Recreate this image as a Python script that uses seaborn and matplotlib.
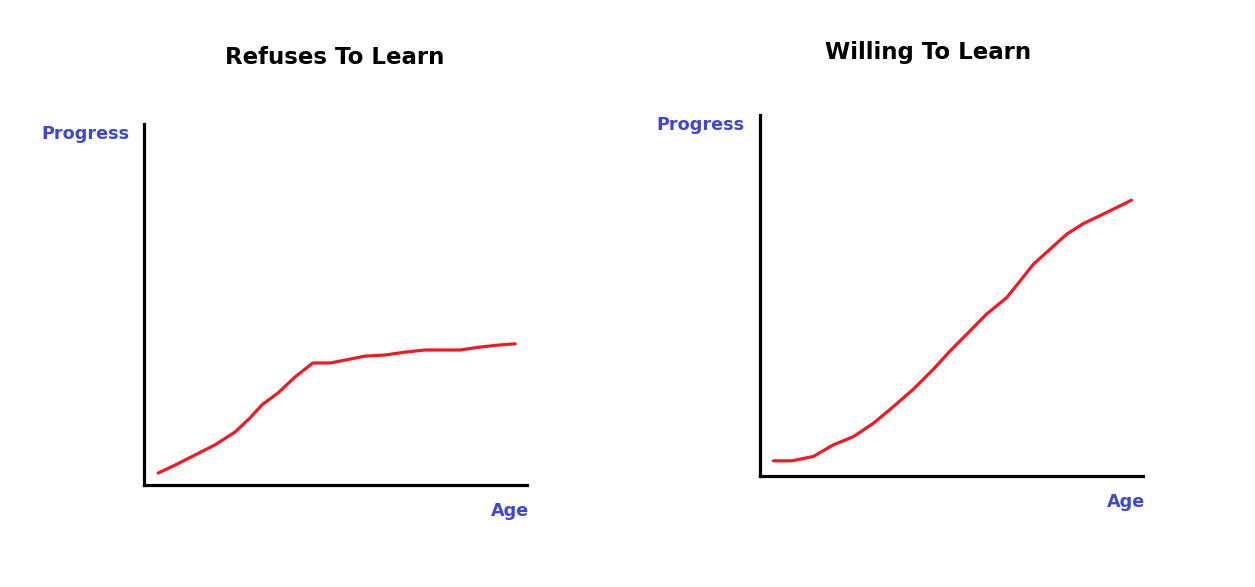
import numpy as np
import pandas as pd
import matplotlib
matplotlib.use("Agg")
import matplotlib.pyplot as plt
import seaborn as sns

# hand-sketched curves (age 0-100, progress 0-100)
refuse_age = [3.7, 8.1, 13.3, 18.5, 23.8, 27.7, 30.8, 35.0, 39.4, 44.1,
              48.6, 52.5, 57.7, 62.9, 68.1, 73.4, 82.5, 87.7, 92.9, 96.9]
refuse_progress = [3.3, 5.5, 8.3, 11.1, 14.7, 18.6, 22.2, 25.5, 29.9, 33.8,
                   33.8, 34.6, 35.7, 36.0, 36.8, 37.4, 37.4, 38.2, 38.8, 39.1]

willing_age = [3.5, 8.3, 13.9, 19.1, 24.4, 29.6, 34.8, 40.0, 45.2, 49.6,
               54.0, 59.2, 64.4, 67.9, 71.4, 75.7, 80.1, 84.4, 90.5, 97.0]
willing_progress = [4.2, 4.2, 5.4, 8.6, 10.9, 14.6, 19.2, 24.0, 29.5, 34.6,
                    39.3, 44.9, 49.4, 54.0, 58.7, 62.8, 67.0, 69.9, 73.0, 76.4]

titles = ["Refuses To Learn", "Willing To Learn"]
x_label = "Age"
y_label = "Progress"

sns.set_theme(style="white")
plt.rcParams['font.family'] = ['DejaVu Sans']

W, H = 1255, 587
fig = plt.figure(figsize=(W / 100, H / 100), dpi=100)

RED = '#ed1c24'
BLUE = '#3f48cc'

# axes boxes in pixel terms: (left, top, right, bottom)
boxes = [(144, 124, 527, 485), (760, 115, 1143, 476)]
title_pos = [(335, 57), (928, 52)]
ylab_pos = [(85, 134), (700, 125)]
xlab_pos = [(510, 511), (1126, 502)]

series = [
    pd.DataFrame({'age': refuse_age, 'progress': refuse_progress}),
    pd.DataFrame({'age': willing_age, 'progress': willing_progress}),
]

for i, df in enumerate(series):
    l, t, r, b = boxes[i]
    ax = fig.add_axes([l / W, 1 - b / H, (r - l) / W, (b - t) / H])
    sns.lineplot(data=df, x='age', y='progress', color=RED, linewidth=2.3, ax=ax)
    ax.set_xlim(0, 100)
    ax.set_ylim(0, 100)
    ax.set_xticks([])
    ax.set_yticks([])
    ax.set_xlabel("")
    ax.set_ylabel("")
    sns.despine(ax=ax)
    for s in ['left', 'bottom']:
        ax.spines[s].set_color('black')
        ax.spines[s].set_linewidth(2.3)

    tx, ty = title_pos[i]
    fig.text(tx / W, 1 - ty / H, titles[i], ha='center', va='center',
             fontsize=16.5, fontweight='bold', color='black')
    yx, yy = ylab_pos[i]
    fig.text(yx / W, 1 - yy / H, y_label, ha='center', va='center',
             fontsize=12.7, fontweight='bold', color=BLUE)
    xx, xy = xlab_pos[i]
    fig.text(xx / W, 1 - xy / H, x_label, ha='center', va='center',
             fontsize=12.7, fontweight='bold', color=BLUE)

fig.savefig("out.png", dpi=100, facecolor='white')
